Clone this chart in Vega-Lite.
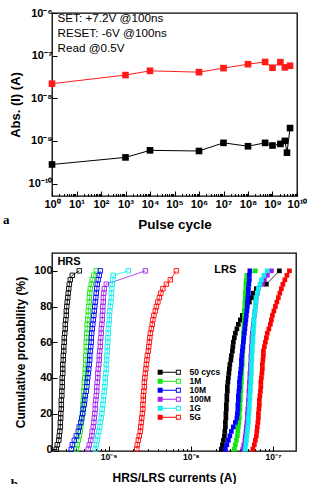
{
  "$schema": "https://vega.github.io/schema/vega-lite/v6.json",
  "background": "white",
  "padding": {"left": 2, "top": 6, "right": 2, "bottom": 0},
  "spacing": 20,
  "resolve": {"scale": {"color": "independent"}, "legend": {"color": "independent"}},
  "config": {
    "font": "Liberation Sans",
    "view": {"stroke": "black", "strokeWidth": 1.3},
    "axis": {
      "labelFont": "Liberation Sans", "labelFontWeight": "bold", "labelColor": "black",
      "titleFont": "Liberation Sans", "titleFontWeight": "bold", "titleColor": "black",
      "grid": false, "domain": false, "tickColor": "black", "tickWidth": 1, "tickSize": -5,
      "labelFlush": false, "labelOverlap": false
    }
  },
  "datasets": {
    "endurance": [
      {"n": 1, "I": 2.2e-8, "state": "LRS"},
      {"n": 1e3, "I": 3.5e-8, "state": "LRS"},
      {"n": 1e4, "I": 4.4e-8, "state": "LRS"},
      {"n": 1e6, "I": 4.1e-8, "state": "LRS"},
      {"n": 1e7, "I": 5.1e-8, "state": "LRS"},
      {"n": 1e8, "I": 6.3e-8, "state": "LRS"},
      {"n": 5e8, "I": 7.1e-8, "state": "LRS"},
      {"n": 1e9, "I": 5.2e-8, "state": "LRS"},
      {"n": 2.1e9, "I": 7.0e-8, "state": "LRS"},
      {"n": 3.2e9, "I": 5.3e-8, "state": "LRS"},
      {"n": 5.2e9, "I": 5.8e-8, "state": "LRS"},
      {"n": 1, "I": 2.8e-10, "state": "HRS"},
      {"n": 1e3, "I": 4.1e-10, "state": "HRS"},
      {"n": 1e4, "I": 6.0e-10, "state": "HRS"},
      {"n": 1e6, "I": 5.8e-10, "state": "HRS"},
      {"n": 1e7, "I": 9.0e-10, "state": "HRS"},
      {"n": 1e8, "I": 7.5e-10, "state": "HRS"},
      {"n": 5e8, "I": 9.0e-10, "state": "HRS"},
      {"n": 1e9, "I": 7.8e-10, "state": "HRS"},
      {"n": 2.1e9, "I": 8.5e-10, "state": "HRS"},
      {"n": 3.2e9, "I": 1.0e-9, "state": "HRS"},
      {"n": 3.9e9, "I": 5.3e-10, "state": "HRS"},
      {"n": 5.2e9, "I": 2.0e-9, "state": "HRS"}
    ],
    "distribution": [
      {"g":"50 cycs","s":"HRS","p":0,"c":2.31e-10},{"g":"50 cycs","s":"HRS","p":2.5,"c":2.38e-10},{"g":"50 cycs","s":"HRS","p":5,"c":2.48e-10},{"g":"50 cycs","s":"HRS","p":7.5,"c":2.51e-10},{"g":"50 cycs","s":"HRS","p":10,"c":2.55e-10},{"g":"50 cycs","s":"HRS","p":12.5,"c":2.59e-10},{"g":"50 cycs","s":"HRS","p":15,"c":2.59e-10},{"g":"50 cycs","s":"HRS","p":17.5,"c":2.62e-10},{"g":"50 cycs","s":"HRS","p":20,"c":2.62e-10},{"g":"50 cycs","s":"HRS","p":22.5,"c":2.66e-10},{"g":"50 cycs","s":"HRS","p":25,"c":2.66e-10},{"g":"50 cycs","s":"HRS","p":27.5,"c":2.66e-10},{"g":"50 cycs","s":"HRS","p":30,"c":2.70e-10},{"g":"50 cycs","s":"HRS","p":32.5,"c":2.70e-10},{"g":"50 cycs","s":"HRS","p":35,"c":2.73e-10},{"g":"50 cycs","s":"HRS","p":37.5,"c":2.73e-10},{"g":"50 cycs","s":"HRS","p":40,"c":2.73e-10},{"g":"50 cycs","s":"HRS","p":42.5,"c":2.77e-10},{"g":"50 cycs","s":"HRS","p":45,"c":2.77e-10},{"g":"50 cycs","s":"HRS","p":47.5,"c":2.77e-10},{"g":"50 cycs","s":"HRS","p":50,"c":2.81e-10},{"g":"50 cycs","s":"HRS","p":52.5,"c":2.81e-10},{"g":"50 cycs","s":"HRS","p":55,"c":2.85e-10},{"g":"50 cycs","s":"HRS","p":57.5,"c":2.85e-10},{"g":"50 cycs","s":"HRS","p":60,"c":2.89e-10},{"g":"50 cycs","s":"HRS","p":62.5,"c":2.89e-10},{"g":"50 cycs","s":"HRS","p":65,"c":2.93e-10},{"g":"50 cycs","s":"HRS","p":67.5,"c":2.97e-10},{"g":"50 cycs","s":"HRS","p":70,"c":2.97e-10},{"g":"50 cycs","s":"HRS","p":72.5,"c":3.01e-10},{"g":"50 cycs","s":"HRS","p":75,"c":3.06e-10},{"g":"50 cycs","s":"HRS","p":77.5,"c":3.06e-10},{"g":"50 cycs","s":"HRS","p":80,"c":3.10e-10},{"g":"50 cycs","s":"HRS","p":82.5,"c":3.14e-10},{"g":"50 cycs","s":"HRS","p":85,"c":3.19e-10},{"g":"50 cycs","s":"HRS","p":87.5,"c":3.23e-10},{"g":"50 cycs","s":"HRS","p":90,"c":3.28e-10},{"g":"50 cycs","s":"HRS","p":92.5,"c":3.33e-10},{"g":"50 cycs","s":"HRS","p":95,"c":3.42e-10},{"g":"50 cycs","s":"HRS","p":97.5,"c":3.62e-10},{"g":"50 cycs","s":"HRS","p":100,"c":4.40e-10},
      {"g":"1M","s":"HRS","p":0,"c":4.05e-10},{"g":"1M","s":"HRS","p":2.5,"c":4.16e-10},{"g":"1M","s":"HRS","p":5,"c":4.28e-10},{"g":"1M","s":"HRS","p":7.5,"c":4.40e-10},{"g":"1M","s":"HRS","p":10,"c":4.52e-10},{"g":"1M","s":"HRS","p":12.5,"c":4.59e-10},{"g":"1M","s":"HRS","p":15,"c":4.65e-10},{"g":"1M","s":"HRS","p":17.5,"c":4.72e-10},{"g":"1M","s":"HRS","p":20,"c":4.79e-10},{"g":"1M","s":"HRS","p":22.5,"c":4.85e-10},{"g":"1M","s":"HRS","p":25,"c":4.85e-10},{"g":"1M","s":"HRS","p":27.5,"c":4.92e-10},{"g":"1M","s":"HRS","p":30,"c":4.99e-10},{"g":"1M","s":"HRS","p":32.5,"c":4.99e-10},{"g":"1M","s":"HRS","p":35,"c":5.06e-10},{"g":"1M","s":"HRS","p":37.5,"c":5.06e-10},{"g":"1M","s":"HRS","p":40,"c":5.13e-10},{"g":"1M","s":"HRS","p":42.5,"c":5.20e-10},{"g":"1M","s":"HRS","p":45,"c":5.20e-10},{"g":"1M","s":"HRS","p":47.5,"c":5.28e-10},{"g":"1M","s":"HRS","p":50,"c":5.28e-10},{"g":"1M","s":"HRS","p":52.5,"c":5.28e-10},{"g":"1M","s":"HRS","p":55,"c":5.35e-10},{"g":"1M","s":"HRS","p":57.5,"c":5.35e-10},{"g":"1M","s":"HRS","p":60,"c":5.35e-10},{"g":"1M","s":"HRS","p":62.5,"c":5.43e-10},{"g":"1M","s":"HRS","p":65,"c":5.43e-10},{"g":"1M","s":"HRS","p":67.5,"c":5.50e-10},{"g":"1M","s":"HRS","p":70,"c":5.50e-10},{"g":"1M","s":"HRS","p":72.5,"c":5.58e-10},{"g":"1M","s":"HRS","p":75,"c":5.66e-10},{"g":"1M","s":"HRS","p":77.5,"c":5.66e-10},{"g":"1M","s":"HRS","p":80,"c":5.74e-10},{"g":"1M","s":"HRS","p":82.5,"c":5.82e-10},{"g":"1M","s":"HRS","p":85,"c":5.82e-10},{"g":"1M","s":"HRS","p":87.5,"c":5.90e-10},{"g":"1M","s":"HRS","p":90,"c":5.99e-10},{"g":"1M","s":"HRS","p":92.5,"c":6.16e-10},{"g":"1M","s":"HRS","p":95,"c":6.33e-10},{"g":"1M","s":"HRS","p":97.5,"c":6.60e-10},{"g":"1M","s":"HRS","p":100,"c":7.08e-10},
      {"g":"10M","s":"HRS","p":0,"c":3.52e-10},{"g":"10M","s":"HRS","p":2.5,"c":3.62e-10},{"g":"10M","s":"HRS","p":5,"c":3.83e-10},{"g":"10M","s":"HRS","p":7.5,"c":4.05e-10},{"g":"10M","s":"HRS","p":10,"c":4.28e-10},{"g":"10M","s":"HRS","p":12.5,"c":4.40e-10},{"g":"10M","s":"HRS","p":15,"c":4.59e-10},{"g":"10M","s":"HRS","p":17.5,"c":4.72e-10},{"g":"10M","s":"HRS","p":20,"c":4.85e-10},{"g":"10M","s":"HRS","p":22.5,"c":4.92e-10},{"g":"10M","s":"HRS","p":25,"c":5.06e-10},{"g":"10M","s":"HRS","p":27.5,"c":5.13e-10},{"g":"10M","s":"HRS","p":30,"c":5.20e-10},{"g":"10M","s":"HRS","p":32.5,"c":5.35e-10},{"g":"10M","s":"HRS","p":35,"c":5.43e-10},{"g":"10M","s":"HRS","p":37.5,"c":5.50e-10},{"g":"10M","s":"HRS","p":40,"c":5.58e-10},{"g":"10M","s":"HRS","p":42.5,"c":5.66e-10},{"g":"10M","s":"HRS","p":45,"c":5.74e-10},{"g":"10M","s":"HRS","p":47.5,"c":5.82e-10},{"g":"10M","s":"HRS","p":50,"c":5.90e-10},{"g":"10M","s":"HRS","p":52.5,"c":5.90e-10},{"g":"10M","s":"HRS","p":55,"c":5.99e-10},{"g":"10M","s":"HRS","p":57.5,"c":6.07e-10},{"g":"10M","s":"HRS","p":60,"c":6.16e-10},{"g":"10M","s":"HRS","p":62.5,"c":6.16e-10},{"g":"10M","s":"HRS","p":65,"c":6.24e-10},{"g":"10M","s":"HRS","p":67.5,"c":6.33e-10},{"g":"10M","s":"HRS","p":70,"c":6.42e-10},{"g":"10M","s":"HRS","p":72.5,"c":6.51e-10},{"g":"10M","s":"HRS","p":75,"c":6.61e-10},{"g":"10M","s":"HRS","p":77.5,"c":6.70e-10},{"g":"10M","s":"HRS","p":80,"c":6.79e-10},{"g":"10M","s":"HRS","p":82.5,"c":6.89e-10},{"g":"10M","s":"HRS","p":85,"c":6.99e-10},{"g":"10M","s":"HRS","p":87.5,"c":7.08e-10},{"g":"10M","s":"HRS","p":90,"c":7.18e-10},{"g":"10M","s":"HRS","p":92.5,"c":7.28e-10},{"g":"10M","s":"HRS","p":95,"c":7.49e-10},{"g":"10M","s":"HRS","p":97.5,"c":7.70e-10},{"g":"10M","s":"HRS","p":100,"c":7.93e-10},
      {"g":"100M","s":"HRS","p":0,"c":5.66e-10},{"g":"100M","s":"HRS","p":2.5,"c":5.82e-10},{"g":"100M","s":"HRS","p":5,"c":6.07e-10},{"g":"100M","s":"HRS","p":7.5,"c":6.24e-10},{"g":"100M","s":"HRS","p":10,"c":6.33e-10},{"g":"100M","s":"HRS","p":12.5,"c":6.51e-10},{"g":"100M","s":"HRS","p":15,"c":6.61e-10},{"g":"100M","s":"HRS","p":17.5,"c":6.70e-10},{"g":"100M","s":"HRS","p":20,"c":6.79e-10},{"g":"100M","s":"HRS","p":22.5,"c":6.89e-10},{"g":"100M","s":"HRS","p":25,"c":6.89e-10},{"g":"100M","s":"HRS","p":27.5,"c":6.99e-10},{"g":"100M","s":"HRS","p":30,"c":7.08e-10},{"g":"100M","s":"HRS","p":32.5,"c":7.18e-10},{"g":"100M","s":"HRS","p":35,"c":7.18e-10},{"g":"100M","s":"HRS","p":37.5,"c":7.28e-10},{"g":"100M","s":"HRS","p":40,"c":7.39e-10},{"g":"100M","s":"HRS","p":42.5,"c":7.39e-10},{"g":"100M","s":"HRS","p":45,"c":7.49e-10},{"g":"100M","s":"HRS","p":47.5,"c":7.60e-10},{"g":"100M","s":"HRS","p":50,"c":7.70e-10},{"g":"100M","s":"HRS","p":52.5,"c":7.70e-10},{"g":"100M","s":"HRS","p":55,"c":7.81e-10},{"g":"100M","s":"HRS","p":57.5,"c":7.93e-10},{"g":"100M","s":"HRS","p":60,"c":7.93e-10},{"g":"100M","s":"HRS","p":62.5,"c":8.04e-10},{"g":"100M","s":"HRS","p":65,"c":8.15e-10},{"g":"100M","s":"HRS","p":67.5,"c":8.15e-10},{"g":"100M","s":"HRS","p":70,"c":8.27e-10},{"g":"100M","s":"HRS","p":72.5,"c":8.38e-10},{"g":"100M","s":"HRS","p":75,"c":8.38e-10},{"g":"100M","s":"HRS","p":77.5,"c":8.50e-10},{"g":"100M","s":"HRS","p":80,"c":8.50e-10},{"g":"100M","s":"HRS","p":82.5,"c":8.62e-10},{"g":"100M","s":"HRS","p":85,"c":8.62e-10},{"g":"100M","s":"HRS","p":87.5,"c":8.74e-10},{"g":"100M","s":"HRS","p":90,"c":8.87e-10},{"g":"100M","s":"HRS","p":92.5,"c":9.38e-10},{"g":"100M","s":"HRS","p":100,"c":2.80e-9},
      {"g":"1G","s":"HRS","p":0,"c":6.89e-10},{"g":"1G","s":"HRS","p":2.5,"c":7.08e-10},{"g":"1G","s":"HRS","p":5,"c":7.28e-10},{"g":"1G","s":"HRS","p":7.5,"c":7.39e-10},{"g":"1G","s":"HRS","p":10,"c":7.60e-10},{"g":"1G","s":"HRS","p":12.5,"c":7.81e-10},{"g":"1G","s":"HRS","p":15,"c":7.93e-10},{"g":"1G","s":"HRS","p":17.5,"c":8.15e-10},{"g":"1G","s":"HRS","p":20,"c":8.27e-10},{"g":"1G","s":"HRS","p":22.5,"c":8.38e-10},{"g":"1G","s":"HRS","p":25,"c":8.50e-10},{"g":"1G","s":"HRS","p":27.5,"c":8.62e-10},{"g":"1G","s":"HRS","p":30,"c":8.74e-10},{"g":"1G","s":"HRS","p":32.5,"c":8.87e-10},{"g":"1G","s":"HRS","p":35,"c":9.00e-10},{"g":"1G","s":"HRS","p":37.5,"c":9.12e-10},{"g":"1G","s":"HRS","p":40,"c":9.12e-10},{"g":"1G","s":"HRS","p":42.5,"c":9.25e-10},{"g":"1G","s":"HRS","p":45,"c":9.38e-10},{"g":"1G","s":"HRS","p":47.5,"c":9.38e-10},{"g":"1G","s":"HRS","p":50,"c":9.51e-10},{"g":"1G","s":"HRS","p":52.5,"c":9.51e-10},{"g":"1G","s":"HRS","p":55,"c":9.64e-10},{"g":"1G","s":"HRS","p":57.5,"c":9.64e-10},{"g":"1G","s":"HRS","p":60,"c":9.78e-10},{"g":"1G","s":"HRS","p":62.5,"c":9.78e-10},{"g":"1G","s":"HRS","p":65,"c":9.92e-10},{"g":"1G","s":"HRS","p":67.5,"c":9.92e-10},{"g":"1G","s":"HRS","p":70,"c":1.006e-9},{"g":"1G","s":"HRS","p":72.5,"c":1.020e-9},{"g":"1G","s":"HRS","p":75,"c":1.020e-9},{"g":"1G","s":"HRS","p":77.5,"c":1.034e-9},{"g":"1G","s":"HRS","p":80,"c":1.049e-9},{"g":"1G","s":"HRS","p":82.5,"c":1.064e-9},{"g":"1G","s":"HRS","p":85,"c":1.079e-9},{"g":"1G","s":"HRS","p":87.5,"c":1.079e-9},{"g":"1G","s":"HRS","p":90,"c":1.094e-9},{"g":"1G","s":"HRS","p":92.5,"c":1.109e-9},{"g":"1G","s":"HRS","p":95,"c":1.125e-9},{"g":"1G","s":"HRS","p":97.5,"c":1.141e-9},{"g":"1G","s":"HRS","p":100,"c":1.737e-9},
      {"g":"5G","s":"HRS","p":0,"c":2.20e-9},{"g":"5G","s":"HRS","p":2.5,"c":2.23e-9},{"g":"5G","s":"HRS","p":5,"c":2.30e-9},{"g":"5G","s":"HRS","p":7.5,"c":2.36e-9},{"g":"5G","s":"HRS","p":10,"c":2.43e-9},{"g":"5G","s":"HRS","p":12.5,"c":2.46e-9},{"g":"5G","s":"HRS","p":15,"c":2.50e-9},{"g":"5G","s":"HRS","p":17.5,"c":2.53e-9},{"g":"5G","s":"HRS","p":20,"c":2.57e-9},{"g":"5G","s":"HRS","p":22.5,"c":2.61e-9},{"g":"5G","s":"HRS","p":25,"c":2.61e-9},{"g":"5G","s":"HRS","p":27.5,"c":2.64e-9},{"g":"5G","s":"HRS","p":30,"c":2.64e-9},{"g":"5G","s":"HRS","p":32.5,"c":2.68e-9},{"g":"5G","s":"HRS","p":35,"c":2.72e-9},{"g":"5G","s":"HRS","p":37.5,"c":2.72e-9},{"g":"5G","s":"HRS","p":40,"c":2.76e-9},{"g":"5G","s":"HRS","p":42.5,"c":2.80e-9},{"g":"5G","s":"HRS","p":45,"c":2.84e-9},{"g":"5G","s":"HRS","p":47.5,"c":2.88e-9},{"g":"5G","s":"HRS","p":50,"c":2.92e-9},{"g":"5G","s":"HRS","p":52.5,"c":2.96e-9},{"g":"5G","s":"HRS","p":55,"c":3.04e-9},{"g":"5G","s":"HRS","p":57.5,"c":3.08e-9},{"g":"5G","s":"HRS","p":60,"c":3.13e-9},{"g":"5G","s":"HRS","p":62.5,"c":3.17e-9},{"g":"5G","s":"HRS","p":65,"c":3.22e-9},{"g":"5G","s":"HRS","p":67.5,"c":3.31e-9},{"g":"5G","s":"HRS","p":70,"c":3.40e-9},{"g":"5G","s":"HRS","p":72.5,"c":3.45e-9},{"g":"5G","s":"HRS","p":75,"c":3.55e-9},{"g":"5G","s":"HRS","p":77.5,"c":3.70e-9},{"g":"5G","s":"HRS","p":80,"c":3.81e-9},{"g":"5G","s":"HRS","p":82.5,"c":3.97e-9},{"g":"5G","s":"HRS","p":85,"c":4.14e-9},{"g":"5G","s":"HRS","p":87.5,"c":4.32e-9},{"g":"5G","s":"HRS","p":90,"c":4.57e-9},{"g":"5G","s":"HRS","p":92.5,"c":5.04e-9},{"g":"5G","s":"HRS","p":95,"c":5.63e-9},{"g":"5G","s":"HRS","p":100,"c":6.66e-9},
      {"g":"50 cycs","s":"LRS","p":0,"c":2.35e-8},{"g":"50 cycs","s":"LRS","p":2.5,"c":2.42e-8},{"g":"50 cycs","s":"LRS","p":5,"c":2.49e-8},{"g":"50 cycs","s":"LRS","p":7.5,"c":2.56e-8},{"g":"50 cycs","s":"LRS","p":10,"c":2.59e-8},{"g":"50 cycs","s":"LRS","p":12.5,"c":2.63e-8},{"g":"50 cycs","s":"LRS","p":15,"c":2.63e-8},{"g":"50 cycs","s":"LRS","p":17.5,"c":2.67e-8},{"g":"50 cycs","s":"LRS","p":20,"c":2.67e-8},{"g":"50 cycs","s":"LRS","p":22.5,"c":2.70e-8},{"g":"50 cycs","s":"LRS","p":25,"c":2.70e-8},{"g":"50 cycs","s":"LRS","p":27.5,"c":2.74e-8},{"g":"50 cycs","s":"LRS","p":30,"c":2.74e-8},{"g":"50 cycs","s":"LRS","p":32.5,"c":2.78e-8},{"g":"50 cycs","s":"LRS","p":35,"c":2.78e-8},{"g":"50 cycs","s":"LRS","p":37.5,"c":2.82e-8},{"g":"50 cycs","s":"LRS","p":40,"c":2.86e-8},{"g":"50 cycs","s":"LRS","p":42.5,"c":2.90e-8},{"g":"50 cycs","s":"LRS","p":45,"c":2.94e-8},{"g":"50 cycs","s":"LRS","p":47.5,"c":2.98e-8},{"g":"50 cycs","s":"LRS","p":50,"c":3.07e-8},{"g":"50 cycs","s":"LRS","p":52.5,"c":3.11e-8},{"g":"50 cycs","s":"LRS","p":55,"c":3.20e-8},{"g":"50 cycs","s":"LRS","p":57.5,"c":3.24e-8},{"g":"50 cycs","s":"LRS","p":60,"c":3.29e-8},{"g":"50 cycs","s":"LRS","p":62.5,"c":3.38e-8},{"g":"50 cycs","s":"LRS","p":65,"c":3.48e-8},{"g":"50 cycs","s":"LRS","p":67.5,"c":3.63e-8},{"g":"50 cycs","s":"LRS","p":70,"c":3.78e-8},{"g":"50 cycs","s":"LRS","p":72.5,"c":4.00e-8},{"g":"50 cycs","s":"LRS","p":75,"c":4.23e-8},{"g":"50 cycs","s":"LRS","p":77.5,"c":4.48e-8},{"g":"50 cycs","s":"LRS","p":80,"c":4.73e-8},{"g":"50 cycs","s":"LRS","p":82.5,"c":5.15e-8},{"g":"50 cycs","s":"LRS","p":85,"c":5.45e-8},{"g":"50 cycs","s":"LRS","p":87.5,"c":5.76e-8},{"g":"50 cycs","s":"LRS","p":90,"c":6.26e-8},{"g":"50 cycs","s":"LRS","p":92.5,"c":8.29e-8},{"g":"50 cycs","s":"LRS","p":100,"c":1.193e-7},
      {"g":"1M","s":"LRS","p":0,"c":3.38e-8},{"g":"1M","s":"LRS","p":2.5,"c":3.48e-8},{"g":"1M","s":"LRS","p":5,"c":3.58e-8},{"g":"1M","s":"LRS","p":7.5,"c":3.68e-8},{"g":"1M","s":"LRS","p":10,"c":3.73e-8},{"g":"1M","s":"LRS","p":12.5,"c":3.78e-8},{"g":"1M","s":"LRS","p":15,"c":3.84e-8},{"g":"1M","s":"LRS","p":17.5,"c":3.89e-8},{"g":"1M","s":"LRS","p":20,"c":3.89e-8},{"g":"1M","s":"LRS","p":22.5,"c":3.95e-8},{"g":"1M","s":"LRS","p":25,"c":3.95e-8},{"g":"1M","s":"LRS","p":27.5,"c":4.00e-8},{"g":"1M","s":"LRS","p":30,"c":4.00e-8},{"g":"1M","s":"LRS","p":32.5,"c":4.06e-8},{"g":"1M","s":"LRS","p":35,"c":4.06e-8},{"g":"1M","s":"LRS","p":37.5,"c":4.12e-8},{"g":"1M","s":"LRS","p":40,"c":4.12e-8},{"g":"1M","s":"LRS","p":42.5,"c":4.17e-8},{"g":"1M","s":"LRS","p":45,"c":4.17e-8},{"g":"1M","s":"LRS","p":47.5,"c":4.23e-8},{"g":"1M","s":"LRS","p":50,"c":4.23e-8},{"g":"1M","s":"LRS","p":52.5,"c":4.23e-8},{"g":"1M","s":"LRS","p":55,"c":4.29e-8},{"g":"1M","s":"LRS","p":57.5,"c":4.29e-8},{"g":"1M","s":"LRS","p":60,"c":4.35e-8},{"g":"1M","s":"LRS","p":62.5,"c":4.35e-8},{"g":"1M","s":"LRS","p":65,"c":4.35e-8},{"g":"1M","s":"LRS","p":67.5,"c":4.41e-8},{"g":"1M","s":"LRS","p":70,"c":4.41e-8},{"g":"1M","s":"LRS","p":72.5,"c":4.48e-8},{"g":"1M","s":"LRS","p":75,"c":4.48e-8},{"g":"1M","s":"LRS","p":77.5,"c":4.48e-8},{"g":"1M","s":"LRS","p":80,"c":4.54e-8},{"g":"1M","s":"LRS","p":82.5,"c":4.54e-8},{"g":"1M","s":"LRS","p":85,"c":4.60e-8},{"g":"1M","s":"LRS","p":87.5,"c":4.60e-8},{"g":"1M","s":"LRS","p":90,"c":4.67e-8},{"g":"1M","s":"LRS","p":92.5,"c":4.67e-8},{"g":"1M","s":"LRS","p":95,"c":4.73e-8},{"g":"1M","s":"LRS","p":97.5,"c":4.80e-8},{"g":"1M","s":"LRS","p":100,"c":6.09e-8},
      {"g":"10M","s":"LRS","p":0,"c":2.63e-8},{"g":"10M","s":"LRS","p":2.5,"c":2.74e-8},{"g":"10M","s":"LRS","p":5,"c":2.86e-8},{"g":"10M","s":"LRS","p":7.5,"c":2.98e-8},{"g":"10M","s":"LRS","p":10,"c":3.11e-8},{"g":"10M","s":"LRS","p":12.5,"c":3.29e-8},{"g":"10M","s":"LRS","p":15,"c":3.48e-8},{"g":"10M","s":"LRS","p":17.5,"c":3.63e-8},{"g":"10M","s":"LRS","p":20,"c":3.68e-8},{"g":"10M","s":"LRS","p":22.5,"c":3.73e-8},{"g":"10M","s":"LRS","p":25,"c":3.73e-8},{"g":"10M","s":"LRS","p":27.5,"c":3.78e-8},{"g":"10M","s":"LRS","p":30,"c":3.78e-8},{"g":"10M","s":"LRS","p":32.5,"c":3.84e-8},{"g":"10M","s":"LRS","p":35,"c":3.89e-8},{"g":"10M","s":"LRS","p":37.5,"c":3.89e-8},{"g":"10M","s":"LRS","p":40,"c":3.95e-8},{"g":"10M","s":"LRS","p":42.5,"c":4.00e-8},{"g":"10M","s":"LRS","p":45,"c":4.06e-8},{"g":"10M","s":"LRS","p":47.5,"c":4.12e-8},{"g":"10M","s":"LRS","p":50,"c":4.12e-8},{"g":"10M","s":"LRS","p":52.5,"c":4.17e-8},{"g":"10M","s":"LRS","p":55,"c":4.23e-8},{"g":"10M","s":"LRS","p":57.5,"c":4.29e-8},{"g":"10M","s":"LRS","p":60,"c":4.35e-8},{"g":"10M","s":"LRS","p":62.5,"c":4.41e-8},{"g":"10M","s":"LRS","p":65,"c":4.48e-8},{"g":"10M","s":"LRS","p":67.5,"c":4.54e-8},{"g":"10M","s":"LRS","p":70,"c":4.60e-8},{"g":"10M","s":"LRS","p":72.5,"c":4.67e-8},{"g":"10M","s":"LRS","p":75,"c":4.73e-8},{"g":"10M","s":"LRS","p":77.5,"c":4.80e-8},{"g":"10M","s":"LRS","p":80,"c":4.87e-8},{"g":"10M","s":"LRS","p":82.5,"c":4.87e-8},{"g":"10M","s":"LRS","p":85,"c":4.94e-8},{"g":"10M","s":"LRS","p":87.5,"c":5.01e-8},{"g":"10M","s":"LRS","p":90,"c":5.01e-8},{"g":"10M","s":"LRS","p":92.5,"c":5.08e-8},{"g":"10M","s":"LRS","p":95,"c":5.15e-8},{"g":"10M","s":"LRS","p":97.5,"c":5.15e-8},{"g":"10M","s":"LRS","p":100,"c":5.22e-8},
      {"g":"100M","s":"LRS","p":0,"c":4.29e-8},{"g":"100M","s":"LRS","p":2.5,"c":4.41e-8},{"g":"100M","s":"LRS","p":5,"c":4.54e-8},{"g":"100M","s":"LRS","p":7.5,"c":4.60e-8},{"g":"100M","s":"LRS","p":10,"c":4.67e-8},{"g":"100M","s":"LRS","p":12.5,"c":4.73e-8},{"g":"100M","s":"LRS","p":15,"c":4.80e-8},{"g":"100M","s":"LRS","p":17.5,"c":4.87e-8},{"g":"100M","s":"LRS","p":20,"c":4.87e-8},{"g":"100M","s":"LRS","p":22.5,"c":4.94e-8},{"g":"100M","s":"LRS","p":25,"c":5.01e-8},{"g":"100M","s":"LRS","p":27.5,"c":5.01e-8},{"g":"100M","s":"LRS","p":30,"c":5.08e-8},{"g":"100M","s":"LRS","p":32.5,"c":5.08e-8},{"g":"100M","s":"LRS","p":35,"c":5.15e-8},{"g":"100M","s":"LRS","p":37.5,"c":5.15e-8},{"g":"100M","s":"LRS","p":40,"c":5.22e-8},{"g":"100M","s":"LRS","p":42.5,"c":5.22e-8},{"g":"100M","s":"LRS","p":45,"c":5.30e-8},{"g":"100M","s":"LRS","p":47.5,"c":5.30e-8},{"g":"100M","s":"LRS","p":50,"c":5.37e-8},{"g":"100M","s":"LRS","p":52.5,"c":5.37e-8},{"g":"100M","s":"LRS","p":55,"c":5.45e-8},{"g":"100M","s":"LRS","p":57.5,"c":5.45e-8},{"g":"100M","s":"LRS","p":60,"c":5.52e-8},{"g":"100M","s":"LRS","p":62.5,"c":5.52e-8},{"g":"100M","s":"LRS","p":65,"c":5.60e-8},{"g":"100M","s":"LRS","p":67.5,"c":5.68e-8},{"g":"100M","s":"LRS","p":70,"c":5.76e-8},{"g":"100M","s":"LRS","p":72.5,"c":5.84e-8},{"g":"100M","s":"LRS","p":75,"c":5.92e-8},{"g":"100M","s":"LRS","p":77.5,"c":6.01e-8},{"g":"100M","s":"LRS","p":80,"c":6.09e-8},{"g":"100M","s":"LRS","p":82.5,"c":6.18e-8},{"g":"100M","s":"LRS","p":85,"c":6.26e-8},{"g":"100M","s":"LRS","p":87.5,"c":6.44e-8},{"g":"100M","s":"LRS","p":90,"c":6.63e-8},{"g":"100M","s":"LRS","p":92.5,"c":7.41e-8},{"g":"100M","s":"LRS","p":95,"c":7.84e-8},{"g":"100M","s":"LRS","p":97.5,"c":8.52e-8},{"g":"100M","s":"LRS","p":100,"c":9.54e-8},
      {"g":"1G","s":"LRS","p":0,"c":4.60e-8},{"g":"1G","s":"LRS","p":2.5,"c":4.67e-8},{"g":"1G","s":"LRS","p":5,"c":4.73e-8},{"g":"1G","s":"LRS","p":7.5,"c":4.80e-8},{"g":"1G","s":"LRS","p":10,"c":4.87e-8},{"g":"1G","s":"LRS","p":12.5,"c":4.94e-8},{"g":"1G","s":"LRS","p":15,"c":5.01e-8},{"g":"1G","s":"LRS","p":17.5,"c":5.01e-8},{"g":"1G","s":"LRS","p":20,"c":5.08e-8},{"g":"1G","s":"LRS","p":22.5,"c":5.15e-8},{"g":"1G","s":"LRS","p":25,"c":5.15e-8},{"g":"1G","s":"LRS","p":27.5,"c":5.22e-8},{"g":"1G","s":"LRS","p":30,"c":5.22e-8},{"g":"1G","s":"LRS","p":32.5,"c":5.30e-8},{"g":"1G","s":"LRS","p":35,"c":5.30e-8},{"g":"1G","s":"LRS","p":37.5,"c":5.37e-8},{"g":"1G","s":"LRS","p":40,"c":5.37e-8},{"g":"1G","s":"LRS","p":42.5,"c":5.45e-8},{"g":"1G","s":"LRS","p":45,"c":5.45e-8},{"g":"1G","s":"LRS","p":47.5,"c":5.45e-8},{"g":"1G","s":"LRS","p":50,"c":5.52e-8},{"g":"1G","s":"LRS","p":52.5,"c":5.52e-8},{"g":"1G","s":"LRS","p":55,"c":5.60e-8},{"g":"1G","s":"LRS","p":57.5,"c":5.60e-8},{"g":"1G","s":"LRS","p":60,"c":5.68e-8},{"g":"1G","s":"LRS","p":62.5,"c":5.68e-8},{"g":"1G","s":"LRS","p":65,"c":5.76e-8},{"g":"1G","s":"LRS","p":67.5,"c":5.76e-8},{"g":"1G","s":"LRS","p":70,"c":5.84e-8},{"g":"1G","s":"LRS","p":72.5,"c":5.84e-8},{"g":"1G","s":"LRS","p":75,"c":5.92e-8},{"g":"1G","s":"LRS","p":77.5,"c":6.01e-8},{"g":"1G","s":"LRS","p":80,"c":6.09e-8},{"g":"1G","s":"LRS","p":82.5,"c":6.18e-8},{"g":"1G","s":"LRS","p":85,"c":6.26e-8},{"g":"1G","s":"LRS","p":87.5,"c":6.44e-8},{"g":"1G","s":"LRS","p":90,"c":6.63e-8},{"g":"1G","s":"LRS","p":92.5,"c":6.91e-8},{"g":"1G","s":"LRS","p":95,"c":7.21e-8},{"g":"1G","s":"LRS","p":97.5,"c":7.73e-8},{"g":"1G","s":"LRS","p":100,"c":8.52e-8},
      {"g":"5G","s":"LRS","p":0,"c":5.68e-8},{"g":"5G","s":"LRS","p":2.5,"c":5.92e-8},{"g":"5G","s":"LRS","p":5,"c":6.09e-8},{"g":"5G","s":"LRS","p":7.5,"c":6.26e-8},{"g":"5G","s":"LRS","p":10,"c":6.35e-8},{"g":"5G","s":"LRS","p":12.5,"c":6.44e-8},{"g":"5G","s":"LRS","p":15,"c":6.53e-8},{"g":"5G","s":"LRS","p":17.5,"c":6.63e-8},{"g":"5G","s":"LRS","p":20,"c":6.63e-8},{"g":"5G","s":"LRS","p":22.5,"c":6.72e-8},{"g":"5G","s":"LRS","p":25,"c":6.81e-8},{"g":"5G","s":"LRS","p":27.5,"c":6.81e-8},{"g":"5G","s":"LRS","p":30,"c":6.91e-8},{"g":"5G","s":"LRS","p":32.5,"c":7.01e-8},{"g":"5G","s":"LRS","p":35,"c":7.10e-8},{"g":"5G","s":"LRS","p":37.5,"c":7.10e-8},{"g":"5G","s":"LRS","p":40,"c":7.21e-8},{"g":"5G","s":"LRS","p":42.5,"c":7.31e-8},{"g":"5G","s":"LRS","p":45,"c":7.41e-8},{"g":"5G","s":"LRS","p":47.5,"c":7.41e-8},{"g":"5G","s":"LRS","p":50,"c":7.52e-8},{"g":"5G","s":"LRS","p":52.5,"c":7.62e-8},{"g":"5G","s":"LRS","p":55,"c":7.62e-8},{"g":"5G","s":"LRS","p":57.5,"c":7.84e-8},{"g":"5G","s":"LRS","p":60,"c":8.06e-8},{"g":"5G","s":"LRS","p":62.5,"c":8.29e-8},{"g":"5G","s":"LRS","p":65,"c":8.52e-8},{"g":"5G","s":"LRS","p":67.5,"c":8.89e-8},{"g":"5G","s":"LRS","p":70,"c":9.27e-8},{"g":"5G","s":"LRS","p":72.5,"c":9.54e-8},{"g":"5G","s":"LRS","p":75,"c":9.81e-8},{"g":"5G","s":"LRS","p":77.5,"c":1.022e-7},{"g":"5G","s":"LRS","p":80,"c":1.067e-7},{"g":"5G","s":"LRS","p":82.5,"c":1.112e-7},{"g":"5G","s":"LRS","p":85,"c":1.160e-7},{"g":"5G","s":"LRS","p":87.5,"c":1.210e-7},{"g":"5G","s":"LRS","p":90,"c":1.262e-7},{"g":"5G","s":"LRS","p":92.5,"c":1.316e-7},{"g":"5G","s":"LRS","p":95,"c":1.392e-7},{"g":"5G","s":"LRS","p":97.5,"c":1.474e-7},{"g":"5G","s":"LRS","p":100,"c":1.58e-7}
    ]
  },
  "vconcat": [
    {
      "width": 245,
      "height": 183,
      "title": {"text": "a", "orient": "bottom", "anchor": "start", "frame": "bounds", "font": "Liberation Serif", "fontWeight": "bold", "fontSize": 13, "color": "black", "offset": -17, "dx": -6},
      "layer": [
        {
          "data": {"name": "endurance"},
          "mark": {"type": "line", "strokeWidth": 1},
          "encoding": {
            "x": {
              "field": "n", "type": "quantitative",
              "scale": {"type": "log", "domain": [1, 1e10], "nice": false},
              "axis": {
                "orient": "bottom",
                "values": [1,2,3,4,5,6,7,8,9,1e1,2e1,3e1,4e1,5e1,6e1,7e1,8e1,9e1,1e2,2e2,3e2,4e2,5e2,6e2,7e2,8e2,9e2,1e3,2e3,3e3,4e3,5e3,6e3,7e3,8e3,9e3,1e4,2e4,3e4,4e4,5e4,6e4,7e4,8e4,9e4,1e5,2e5,3e5,4e5,5e5,6e5,7e5,8e5,9e5,1e6,2e6,3e6,4e6,5e6,6e6,7e6,8e6,9e6,1e7,2e7,3e7,4e7,5e7,6e7,7e7,8e7,9e7,1e8,2e8,3e8,4e8,5e8,6e8,7e8,8e8,9e8,1e9,2e9,3e9,4e9,5e9,6e9,7e9,8e9,9e9,1e10],
                "tickSize": {"condition": {"test": "abs(log(datum.value) / LN10 - round(log(datum.value) / LN10)) < 0.001", "value": -5}, "value": -2.5},
                "labelExpr": "abs(log(datum.value) / LN10 - round(log(datum.value) / LN10)) < 0.001 ? '10' + replace(replace(replace(replace(replace(replace(replace(replace(replace(replace(replace('' + round(log(datum.value) / LN10), '-', '⁻'), '0', '⁰'), '1', '¹'), '2', '²'), '3', '³'), '4', '⁴'), '5', '⁵'), '6', '⁶'), '7', '⁷'), '8', '⁸'), '9', '⁹') : ''",
                "labelFontSize": 11, "labelPadding": 7, "labelOverlap": false, "title": "Pulse cycle", "titleFontSize": 13.5, "titlePadding": 6
              }
            },
            "y": {
              "field": "I", "type": "quantitative",
              "scale": {"type": "log", "domain": [5.1e-11, 1e-6], "nice": false},
              "axis": {
                "values": [1e-10, 1e-9, 1e-8, 1e-7, 1e-6],
                "labelExpr": "'10' + replace(replace(replace(replace(replace(replace(replace(replace(replace(replace(replace('' + round(log(datum.value) / LN10), '-', '⁻'), '0', '⁰'), '1', '¹'), '2', '²'), '3', '³'), '4', '⁴'), '5', '⁵'), '6', '⁶'), '7', '⁷'), '8', '⁸'), '9', '⁹')",
                "labelFontSize": 11, "labelPadding": 5, "labelOverlap": false, "title": "Abs. (I) (A)", "titleFontSize": 13, "titlePadding": 6
              }
            },
            "color": {"field": "state", "type": "nominal", "scale": {"domain": ["LRS", "HRS"], "range": ["#ff1a1a", "#000000"]}, "legend": null}
          }
        },
        {
          "data": {"name": "endurance"},
          "mark": {"type": "square", "size": 44, "opacity": 1},
          "encoding": {
            "x": {"field": "n", "type": "quantitative", "scale": {"type": "log", "domain": [1, 1e10], "nice": false}},
            "y": {"field": "I", "type": "quantitative", "scale": {"type": "log", "domain": [5.1e-11, 1e-6], "nice": false}},
            "color": {"field": "state", "type": "nominal", "scale": {"domain": ["LRS", "HRS"], "range": ["#ff1a1a", "#000000"]}, "legend": null}
          }
        },
        {
          "data": {"values": [{"note": "pulse conditions"}]},
          "mark": {"type": "text", "text": ["SET: +7.2V @100ns", "RESET: -6V @100ns", "Read @0.5V"], "align": "left", "baseline": "middle", "fontSize": 11.7, "lineHeight": 15, "fill": "black"},
          "encoding": {
            "x": {"datum": 1.68, "type": "quantitative"},
            "y": {"datum": 7.45e-7, "type": "quantitative"}
          }
        }
      ]
    },
    {
      "width": 244,
      "height": 198,
      "title": {"text": "b", "orient": "bottom", "anchor": "start", "frame": "bounds", "font": "Liberation Serif", "fontWeight": "bold", "fontSize": 13, "color": "black", "offset": -5, "dx": -4},
      "layer": [
        {
          "data": {"name": "distribution"},
          "mark": {"type": "line", "strokeWidth": 0.8},
          "encoding": {
            "x": {
              "field": "c", "type": "quantitative",
              "scale": {"type": "log", "domain": [2.05e-10, 1.9e-7], "nice": false},
              "axis": {
                "orient": "bottom",
                "values": [3e-10,4e-10,5e-10,6e-10,7e-10,8e-10,9e-10,1e-9,2e-9,3e-9,4e-9,5e-9,6e-9,7e-9,8e-9,9e-9,1e-8,2e-8,3e-8,4e-8,5e-8,6e-8,7e-8,8e-8,9e-8,1e-7],
                "tickSize": {"condition": {"test": "abs(log(datum.value) / LN10 - round(log(datum.value) / LN10)) < 0.001", "value": -5}, "value": -2.5},
                "labelExpr": "abs(log(datum.value) / LN10 - round(log(datum.value) / LN10)) < 0.001 ? '10' + replace(replace(replace(replace(replace(replace(replace(replace(replace(replace(replace('' + round(log(datum.value) / LN10), '-', '⁻'), '0', '⁰'), '1', '¹'), '2', '²'), '3', '³'), '4', '⁴'), '5', '⁵'), '6', '⁶'), '7', '⁷'), '8', '⁸'), '9', '⁹') : ''",
                "labelFontSize": 8.5, "labelPadding": 6, "labelOverlap": false, "title": "HRS/LRS currents (A)", "titleFontSize": 12, "titlePadding": 9
              }
            },
            "y": {
              "field": "p", "type": "quantitative",
              "scale": {"domain": [-1, 110], "nice": false},
              "axis": {"values": [0, 20, 40, 60, 80, 100], "labelFontSize": 11, "labelPadding": 5, "labelOverlap": false, "title": "Cumulative probability (%)", "titleFontSize": 12, "titlePadding": 6}
            },
            "detail": {"field": "s", "type": "nominal"},
            "order": {"field": "p", "type": "quantitative"},
            "color": {"field": "g", "type": "nominal", "sort": ["50 cycs", "1M", "10M", "100M", "1G", "5G"], "scale": {"domain": ["50 cycs", "1M", "10M", "100M", "1G", "5G"], "range": ["#000000", "#12e612", "#0000ff", "#a020f0", "#10eeee", "#ff0000"]}, "legend": null}
          }
        },
        {
          "data": {"name": "distribution"},
          "transform": [{"filter": "datum.s === 'HRS'"}],
          "mark": {"type": "point", "shape": "square", "filled": false, "size": 20, "strokeWidth": 0.9, "opacity": 1},
          "encoding": {
            "x": {"field": "c", "type": "quantitative", "scale": {"type": "log", "domain": [2.05e-10, 1.9e-7], "nice": false}},
            "y": {"field": "p", "type": "quantitative", "scale": {"domain": [-1, 110], "nice": false}, "axis": {"values": [0, 20, 40, 60, 80, 100], "labelFontSize": 11, "labelPadding": 5, "labelOverlap": false, "title": "Cumulative probability (%)", "titleFontSize": 12, "titlePadding": 6}},
            "color": {"field": "g", "type": "nominal", "sort": ["50 cycs", "1M", "10M", "100M", "1G", "5G"], "scale": {"domain": ["50 cycs", "1M", "10M", "100M", "1G", "5G"], "range": ["#000000", "#12e612", "#0000ff", "#a020f0", "#10eeee", "#ff0000"]}, "legend": null}
          }
        },
        {
          "data": {"name": "distribution"},
          "transform": [{"filter": "datum.s === 'LRS'"}],
          "mark": {"type": "point", "shape": "square", "filled": true, "size": 22, "opacity": 1},
          "encoding": {
            "x": {"field": "c", "type": "quantitative", "scale": {"type": "log", "domain": [2.05e-10, 1.9e-7], "nice": false}},
            "y": {"field": "p", "type": "quantitative", "scale": {"domain": [-1, 110], "nice": false}, "axis": {"values": [0, 20, 40, 60, 80, 100], "labelFontSize": 11, "labelPadding": 5, "labelOverlap": false, "title": "Cumulative probability (%)", "titleFontSize": 12, "titlePadding": 6}},
            "color": {
              "field": "g", "type": "nominal", "sort": ["50 cycs", "1M", "10M", "100M", "1G", "5G"],
              "scale": {"domain": ["50 cycs", "1M", "10M", "100M", "1G", "5G"], "range": ["#000000", "#12e612", "#0000ff", "#a020f0", "#10eeee", "#ff0000"]},
              "legend": {
                "orient": "none", "legendX": 113, "legendY": 115, "title": null, "padding": 0,
                "symbolType": "M-2.9,-0.62H-1.65V0.62H-2.9Z M-1.65,-0.1H1.65V0.1H-1.65Z M1.65,-0.62H2.9V0.62H1.65Z M1.88,-0.4V0.4H2.67V-0.4Z",
                "symbolSize": 64, "symbolStrokeWidth": 0, "symbolOpacity": 1,
                "labelFont": "Liberation Sans", "labelFontSize": 8.5, "labelFontWeight": "bold", "labelColor": "black", "labelOffset": 16, "rowPadding": 0
              }
            }
          }
        },
        {
          "data": {"values": [{"label": "HRS"}]},
          "mark": {"type": "text", "fontSize": 11, "fontWeight": "bold", "align": "center", "baseline": "middle", "fill": "black"},
          "encoding": {
            "text": {"field": "label", "type": "nominal"},
            "x": {"datum": 3.3e-10, "type": "quantitative"},
            "y": {"datum": 105, "type": "quantitative", "axis": {"values": [0, 20, 40, 60, 80, 100], "labelFontSize": 11, "labelPadding": 5, "labelOverlap": false, "title": "Cumulative probability (%)", "titleFontSize": 12, "titlePadding": 6}}
          }
        },
        {
          "data": {"values": [{"label": "LRS"}]},
          "mark": {"type": "text", "fontSize": 11, "fontWeight": "bold", "align": "center", "baseline": "middle", "fill": "black"},
          "encoding": {
            "text": {"field": "label", "type": "nominal"},
            "x": {"datum": 2.63e-8, "type": "quantitative"},
            "y": {"datum": 100.5, "type": "quantitative", "axis": {"values": [0, 20, 40, 60, 80, 100], "labelFontSize": 11, "labelPadding": 5, "labelOverlap": false, "title": "Cumulative probability (%)", "titleFontSize": 12, "titlePadding": 6}}
          }
        }
      ],
      "resolve": {"legend": {"color": "independent"}}
    }
  ]
}
